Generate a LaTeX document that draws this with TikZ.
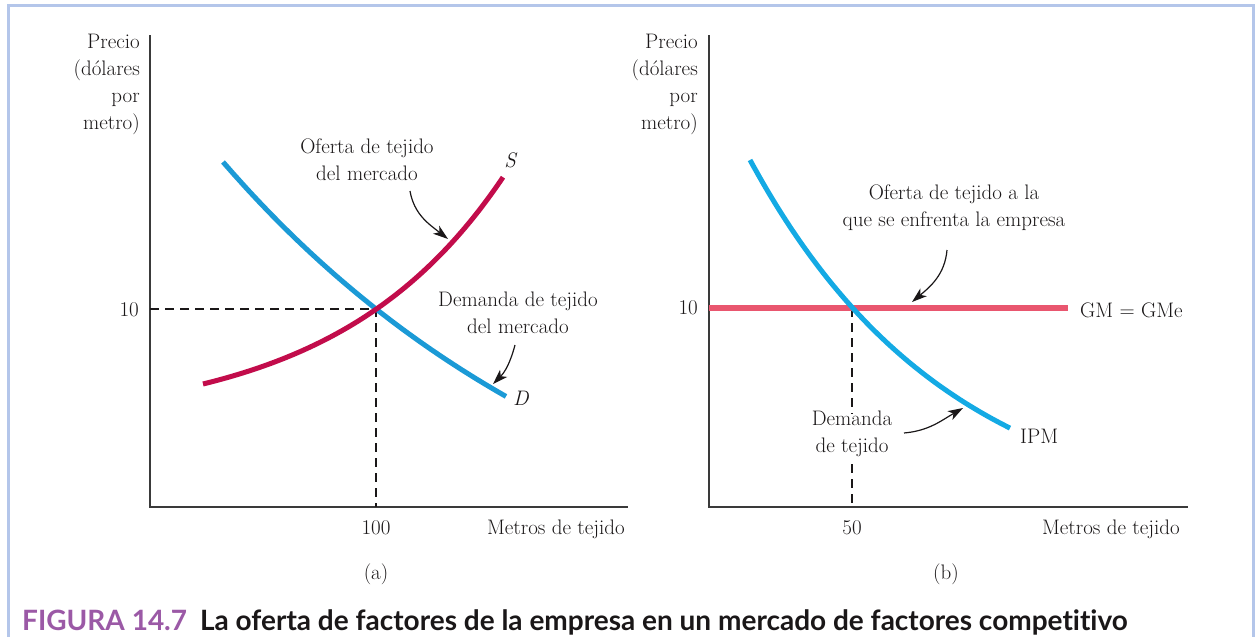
\documentclass[tikz,border=0pt]{standalone}
\usepackage{fontspec}
\newfontfamily\capfont{Lato}[Ligatures=NoCommon]
\usetikzlibrary{arrows.meta}
\definecolor{txt}{HTML}{1A1718}
\definecolor{axisgray}{HTML}{3A3A3A}
\definecolor{frameblue}{HTML}{B4C6EA}
\definecolor{demblue}{HTML}{1B9AD6}
\definecolor{ipmblue}{HTML}{14AAE4}
\definecolor{suppred}{HTML}{C20C4B}
\definecolor{gmpink}{HTML}{E9566F}
\definecolor{figpurple}{HTML}{9B59A6}
\begin{document}
\begin{tikzpicture}[x=1pt,y=-1pt,
  lbl/.style={font=\fontsize{21}{27}\selectfont, text=txt, inner sep=0pt},
  axisline/.style={line width=1.5pt, draw=axisgray},
  dashline/.style={line width=1.1pt, draw=txt, dash pattern=on 9pt off 6pt},
  curve/.style={line width=5pt},
  callout/.style={line width=1.2pt, draw=txt, -{Stealth[length=15pt,width=10pt,inset=4pt]}}]
\useasboundingbox (0,0) rectangle (1256,637);
% frame
\draw[frameblue, line width=3pt] (8,640) -- (8,5) -- (1253,5) -- (1253,640);

% ---------- panel (a) ----------
\draw[axisline] (150,35) -- (150,507) -- (628,507);
\node[lbl, anchor=north east, align=right] (ya) at (140,34) {Precio\\(dólares\\por\\metro)};
\node[lbl, anchor=base east] (xa) at (625,534) {Metros de tejido};
\coordinate (Ea) at (376,309);
\node[lbl, anchor=east] (t10a) at (139,310) {10};
\node[lbl, anchor=base] (t100) at (376,534) {100};
\draw[dashline] (150,309) -- (Ea) -- (376,507);
\draw[curve, demblue] plot[domain=223:506, samples=80] (\x, {162+462*(1-exp(-0.0025*(\x-223)))});
\draw[curve, suppred] plot[domain=203:503, samples=80] (\x, {384-41*(exp(0.006*(\x-203))-1)});
\node[lbl, anchor=center] (S) at (511,160) {\textit{S}};
\node[lbl, anchor=center] (D) at (521,398) {\textit{D}};
\node[lbl, align=center] (ofm) at (367,160) {Oferta de tejido\\del mercado};
\node[lbl, align=center] (dem) at (518,313) {Demanda de tejido\\del mercado};
\coordinate (a1s) at (410,191);
\coordinate (a1e) at (448,239);
\coordinate (a2s) at (515,345);
\coordinate (a2e) at (493,384);
\draw[callout] (a1s) to[out=-80,in=142] (a1e);
\draw[callout] (a2s) to[out=-105,in=45] (a2e);
\node[lbl] (la) at (376,574) {(a)};

% ---------- panel (b) ----------
\draw[axisline] (709,35) -- (709,507) -- (1188,507);
\node[lbl, anchor=north east, align=right] (yb) at (698,34) {Precio\\(dólares\\por\\metro)};
\node[lbl, anchor=base east] (xb) at (1180,534) {Metros de tejido};
\coordinate (Eb) at (852,308);
\node[lbl, anchor=east] (t10b) at (698,308) {10};
\node[lbl, anchor=base] (t50) at (852,534) {50};
\node[lbl, align=center] (demt) at (852,434) {Demanda\\de tejido};
\draw[dashline] (Eb) -- ([yshift=-3pt]demt.north);
\draw[dashline] ([yshift=-7pt]demt.south) -- (852,507);
\draw[gmpink, line width=6pt] (709,308) -- (1068,308);
\draw[curve, ipmblue] plot[domain=750:1010, samples=80] (\x, {160+368.4*(1-exp(-0.005*(\x-750)))});
\node[lbl, anchor=west] (ipm) at (1020,436) {IPM};
\node[lbl, anchor=west] (gm) at (1080,310) {GM = GMe};
\node[lbl, align=center] (ofe) at (954,208) {Oferta de tejido a la\\que se enfrenta la empresa};
\coordinate (a3s) at (947,250);
\coordinate (a3e) at (912,302);
\coordinate (a4s) at (904,433);
\coordinate (a4e) at (963,408);
\draw[callout] (a3s) to[out=-95,in=40] (a3e);
\draw[callout] (a4s) to[out=5,in=210] (a4e);
\node[lbl] (lb) at (946,574) {(b)};

% ---------- caption ----------
\node[anchor=base west, inner sep=0pt, text=txt] (cap) at (22,630)
  {\capfont\bfseries\fontsize{28}{32}\selectfont\textcolor{figpurple}{FIGURA 14.7}\hspace{13pt}La oferta de factores de la empresa en un mercado de factores competitivo};
\end{tikzpicture}
\end{document}
